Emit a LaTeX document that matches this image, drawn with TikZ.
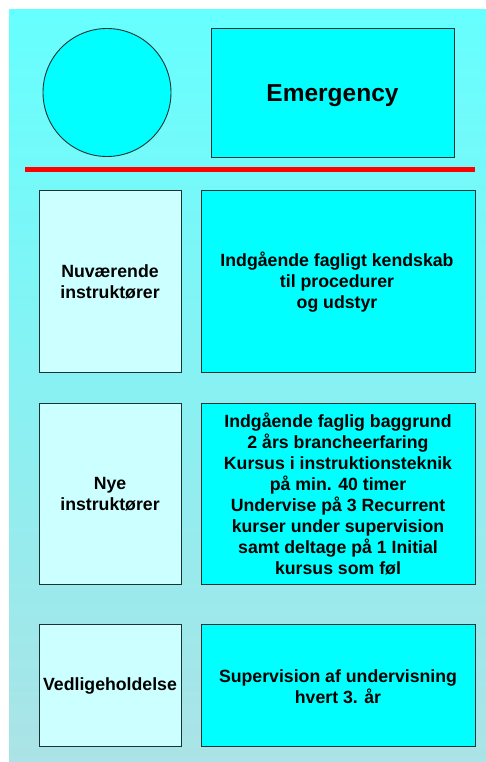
\documentclass[tikz,border=0pt]{standalone}
\usepackage{fontspec}
\setmainfont{Liberation Sans}
\definecolor{bgtop}{HTML}{66FFFF}
\definecolor{bgbot}{HTML}{ABE3E6}
\definecolor{lightbox}{HTML}{CCFFFF}
\definecolor{darkbox}{HTML}{00FFFF}
\definecolor{edge}{HTML}{1A3333}
\tikzset{
  panel/.style={draw=edge, line width=0.9pt, inner sep=0pt, anchor=north west},
  lefttext/.style={font=\bfseries\fontsize{17.7}{21}\selectfont, align=center},
  righttext/.style={font=\bfseries\fontsize{17.7}{21}\selectfont, align=center},
}
\begin{document}
\begin{tikzpicture}[x=1pt,y=-1pt]
\useasboundingbox (0,0) rectangle (486,762);
\shade[top color=bgtop, bottom color=bgbot] (9,10) rectangle (486,762);
% top
\node[draw=edge, line width=0.9pt, circle, fill=darkbox, minimum size=128pt, inner sep=0pt] (circ) at (107,92.5) {};
\draw[panel, fill=darkbox] (211,28) rectangle (454,157);
\node[font=\bfseries\fontsize{24.5}{29}\selectfont] (emer) at (332.5,96) {Emergency};
\coordinate (ra) at (25,170);
\coordinate (rb) at (475,170);
\draw[red, line width=5pt] (ra) -- (rb);
% row 1
\draw[panel, fill=lightbox] (39,190) rectangle (181,372);
\draw[panel, fill=darkbox] (201,190) rectangle (475,372);
\node[lefttext] (l1) at (110,282) {Nuværende\\instruktører};
\node[righttext] (r1) at (337,282) {Indgående fagligt kendskab\\til procedurer\\og udstyr};
% row 2
\draw[panel, fill=lightbox] (39,403) rectangle (181,584);
\draw[panel, fill=darkbox] (201,403) rectangle (475,584);
\node[lefttext] (l2) at (110,494) {Nye\\instruktører};
\node[righttext] (r2) at (338,494) {Indgående faglig baggrund\\2 års brancheerfaring\\Kursus i instruktionsteknik\\på min. 40 timer\\Undervise på 3 Recurrent\\kurser under supervision\\samt deltage på 1 Initial\\kursus som føl};
% row 3
\draw[panel, fill=lightbox] (39,624) rectangle (181,746);
\draw[panel, fill=darkbox] (201,624) rectangle (475,746);
\node[lefttext] (l3) at (110,686) {Vedligeholdelse};
\node[righttext] (r3) at (338,687) {Supervision af undervisning\\hvert 3. år};
\end{tikzpicture}
\end{document}
